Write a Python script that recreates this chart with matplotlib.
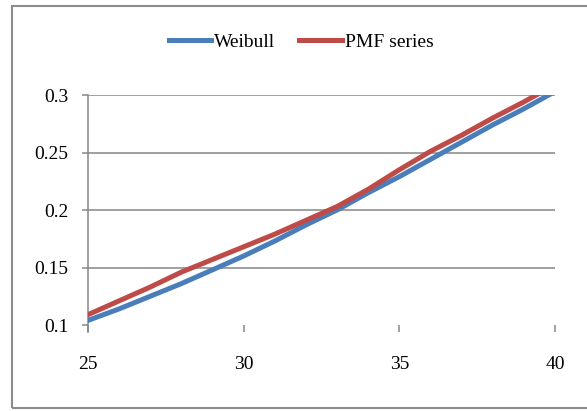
#!/usr/bin/env python

import numpy as np
import matplotlib as mpl
import matplotlib.pyplot as plt
from matplotlib.patches import Rectangle

mpl.rc('font', family='Liberation Serif', size=14)

# shape parameter grid and cumulative probability of the two fits
x_vals = [25, 26, 27, 28, 29, 30, 31, 32, 33, 34, 35, 36, 37, 38, 39, 40]
weibull = [0.104, 0.114, 0.125, 0.136, 0.148, 0.160, 0.173, 0.187,
           0.200, 0.215, 0.229, 0.244, 0.259, 0.274, 0.288, 0.303]
pmf = [0.109, 0.121, 0.133, 0.146, 0.157, 0.168, 0.179, 0.191,
       0.203, 0.218, 0.235, 0.251, 0.265, 0.280, 0.294, 0.309]

x_ticks = [25, 30, 35, 40]
y_ticks = [0.1, 0.15, 0.2, 0.25, 0.3]
y_labels = ['0.1', '0.15', '0.2', '0.25', '0.3']


def main() -> None:

    W, H = 587, 411
    fig = plt.figure(figsize=(W/100, H/100), dpi=100)

    # chart border
    fig.patches.append(Rectangle(
        (12/W, 3/H), 1.0, (H - 9)/H,
        transform=fig.transFigure,
        fill=False,
        lw=1.5,
        edgecolor='#8c8c8c',
    ))

    ax0 = fig.add_axes([88/W, (H - 325)/H, (555 - 88)/W, (325 - 95)/H])

    grid = '#868686'

    ax0.plot(
        x_vals,
        weibull,
        lw=3.6,
        color='#4a7ebb',
        label='Weibull',
        zorder=3,
    )

    ax0.plot(
        x_vals,
        pmf,
        lw=3.6,
        color='#be4b48',
        label='PMF series',
        zorder=3,
    )

    ax0.set_xlim(25, 40)
    ax0.set_ylim(0.1, 0.3)

    ax0.set_xticks(x_ticks)
    ax0.set_yticks(y_ticks)
    ax0.set_yticklabels(y_labels)

    for y in y_ticks[1:]:
        ax0.axhline(y=y, lw=1.1, color=grid, zorder=1)

    for side in ('top', 'right', 'bottom'):
        ax0.spines[side].set_visible(False)
    ax0.spines['left'].set_color(grid)
    ax0.spines['left'].set_linewidth(1.1)
    ax0.spines['left'].set_bounds(0.1 - 0.006, 0.3)

    ax0.tick_params(axis='x', length=5, width=1.1, color=grid, pad=17)
    ax0.tick_params(axis='y', length=4, width=1.1, color=grid, pad=10)
    ax0.patch.set_visible(False)

    fig.legend(
        loc='center',
        bbox_to_anchor=(301/W, (H - 42)/H),
        ncol=2,
        frameon=False,
        handlelength=2.2,
        handletextpad=0.15,
        columnspacing=1.2,
        fontsize=14,
    )

    fig.savefig('out.png', dpi=100)

    return


if __name__ == '__main__':
    main()
